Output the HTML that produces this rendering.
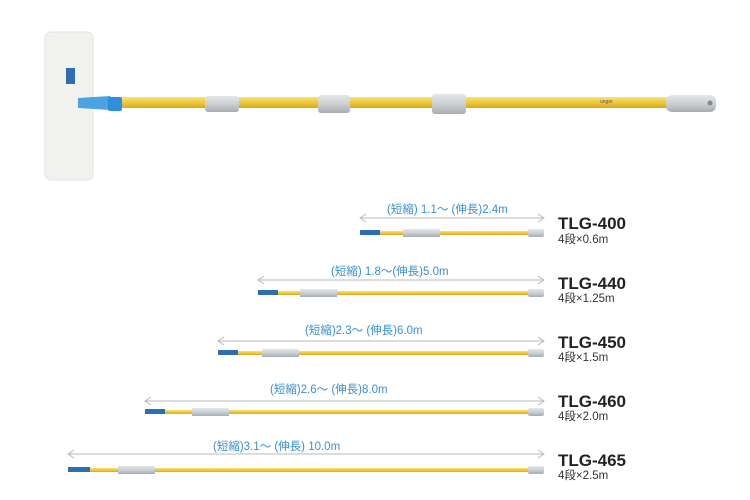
<!DOCTYPE html>
<html><head><meta charset="utf-8"><style>
body{margin:0;background:#fff;}
svg{display:block}
.l{font-family:"Liberation Sans","Noto Sans CJK JP",sans-serif;fill:#3a8fd0;font-size:11.5px}
.t{font-family:"Liberation Sans",sans-serif;font-weight:bold;font-size:17px;fill:#222}
.s{font-family:"Liberation Sans","Noto Sans CJK JP",sans-serif;font-size:11.5px;fill:#333}
</style></head><body>
<svg width="750" height="500" viewBox="0 0 750 500">
<defs>
<linearGradient id="y" x1="0" y1="0" x2="0" y2="1"><stop offset="0" stop-color="#f7e27a"/><stop offset=".5" stop-color="#f0c93a"/><stop offset="1" stop-color="#d9a820"/></linearGradient>
<linearGradient id="g" x1="0" y1="0" x2="0" y2="1"><stop offset="0" stop-color="#e4e6e8"/><stop offset=".5" stop-color="#ccd0d3"/><stop offset="1" stop-color="#a7adb2"/></linearGradient>
</defs>
<rect x="80" y="97" width="590" height="11" fill="url(#y)"/>
<rect x="45" y="32" width="48" height="148" rx="6" fill="#f1f2ee" stroke="#e2e2de"/>
<rect x="66" y="68" width="9" height="16" fill="#2f6db3"/>
<path d="M78 98 L110 96 L118 104 L110 110 L78 108Z" fill="#4ba3e0"/>
<rect x="108" y="97" width="14" height="14" rx="2" fill="#2f8fd8"/>
<rect x="205" y="96" width="34" height="16" rx="3" fill="url(#g)"/>
<rect x="318" y="95" width="32" height="18" rx="3" fill="url(#g)"/>
<rect x="432" y="94" width="34" height="20" rx="3" fill="url(#g)"/>
<text x="600" y="103" font-size="5" fill="#555" font-family="Liberation Sans">unger</text>
<rect x="666" y="95" width="50" height="17" rx="6" fill="url(#g)"/>
<circle cx="710" cy="103" r="2.5" fill="#888"/>
<g stroke="#b8b8b8" stroke-width="1" fill="none">
<line x1="360" y1="218" x2="544" y2="218"/><path d="M366 214 L360 218 L366 222 M538 214 L544 218 L538 222"/>
<line x1="258" y1="280" x2="544" y2="280"/><path d="M264 276 L258 280 L264 284 M538 276 L544 280 L538 284"/>
<line x1="218" y1="341" x2="544" y2="341"/><path d="M224 337 L218 341 L224 345 M538 337 L544 341 L538 345"/>
<line x1="145" y1="401" x2="544" y2="401"/><path d="M151 397 L145 401 L151 405 M538 397 L544 401 L538 405"/>
<line x1="68" y1="454" x2="544" y2="454"/><path d="M74 450 L68 454 L74 458 M538 450 L544 454 L538 458"/>
</g>
<text class="l" x="387" y="213">(短縮) 1.1～ (伸長)2.4m</text>
<text class="l" x="331" y="275">(短縮) 1.8～(伸長)5.0m</text>
<text class="l" x="305" y="334">(短縮)2.3～ (伸長)6.0m</text>
<text class="l" x="270" y="393">(短縮)2.6～ (伸長)8.0m</text>
<text class="l" x="213" y="450">(短縮)3.1～ (伸長) 10.0m</text>
<g>
<rect x="360" y="231" width="182" height="4" fill="url(#y)"/><rect x="360" y="230" width="20" height="5" fill="#2f6db3"/><rect x="403" y="229" width="37" height="8" fill="url(#g)"/><rect x="528" y="229" width="16" height="8" rx="2" fill="url(#g)"/>
<rect x="258" y="291" width="284" height="4" fill="url(#y)"/><rect x="258" y="290" width="20" height="5" fill="#2f6db3"/><rect x="300" y="289" width="37" height="8" fill="url(#g)"/><rect x="528" y="289" width="16" height="8" rx="2" fill="url(#g)"/>
<rect x="218" y="351" width="324" height="4" fill="url(#y)"/><rect x="218" y="350" width="20" height="5" fill="#2f6db3"/><rect x="262" y="349" width="37" height="8" fill="url(#g)"/><rect x="528" y="349" width="16" height="8" rx="2" fill="url(#g)"/>
<rect x="145" y="410" width="397" height="4" fill="url(#y)"/><rect x="145" y="409" width="20" height="5" fill="#2f6db3"/><rect x="192" y="408" width="37" height="8" fill="url(#g)"/><rect x="528" y="408" width="16" height="8" rx="2" fill="url(#g)"/>
<rect x="68" y="468" width="474" height="4" fill="url(#y)"/><rect x="68" y="467" width="22" height="5" fill="#2f6db3"/><rect x="118" y="466" width="37" height="8" fill="url(#g)"/><rect x="528" y="466" width="16" height="8" rx="2" fill="url(#g)"/>
</g>
<text class="t" x="558" y="229">TLG-400</text><text class="s" x="558" y="243">4段×0.6m</text>
<text class="t" x="558" y="289">TLG-440</text><text class="s" x="558" y="302">4段×1.25m</text>
<text class="t" x="558" y="348">TLG-450</text><text class="s" x="558" y="361">4段×1.5m</text>
<text class="t" x="558" y="407">TLG-460</text><text class="s" x="558" y="420">4段×2.0m</text>
<text class="t" x="558" y="466">TLG-465</text><text class="s" x="558" y="479">4段×2.5m</text>
</svg>
</body></html>
